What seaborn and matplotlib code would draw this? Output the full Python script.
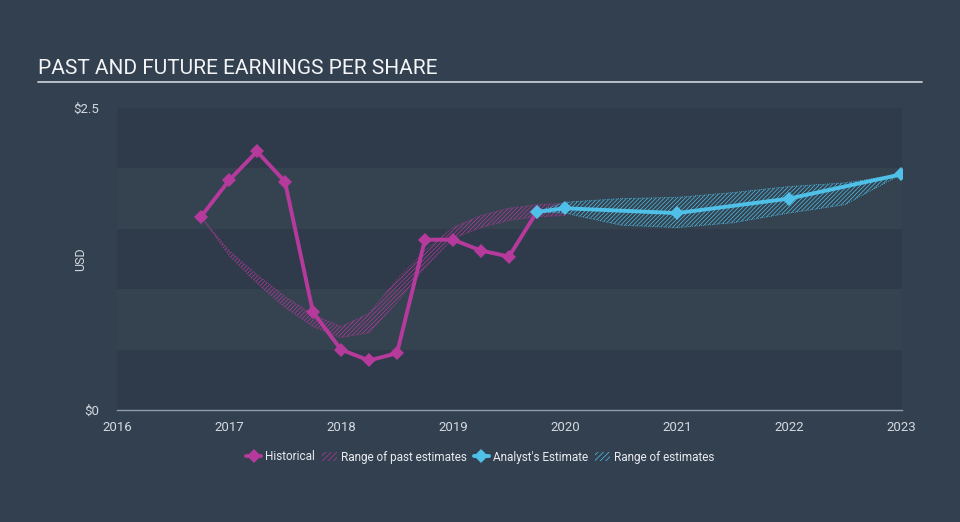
import matplotlib
matplotlib.use("Agg")
import matplotlib.pyplot as plt
from matplotlib.lines import Line2D
from matplotlib.patches import Patch
import pandas as pd
import seaborn as sns

# historical EPS (quarterly, decimal years)
hist_x = [2016.75, 2017.0, 2017.25, 2017.5, 2017.75, 2018.0, 2018.25, 2018.5,
          2018.75, 2019.0, 2019.25, 2019.5, 2019.75]
hist_y = [1.60, 1.90, 2.14, 1.89, 0.81, 0.50, 0.41, 0.47,
          1.41, 1.41, 1.32, 1.27, 1.64]

# analyst estimates
est_x = [2019.75, 2020.0, 2021.0, 2022.0, 2023.0]
est_y = [1.64, 1.67, 1.63, 1.75, 1.95]

# range of past estimates
past_x = [2016.75, 2017.0, 2017.25, 2017.5, 2017.75, 2018.0, 2018.25, 2018.5,
          2018.75, 2019.0, 2019.25, 2019.5, 2019.75, 2020.0]
past_hi = [1.60, 1.32, 1.12, 0.94, 0.79, 0.69, 0.80, 1.08,
           1.32, 1.51, 1.61, 1.67, 1.70, 1.71]
past_lo = [1.60, 1.28, 1.05, 0.85, 0.69, 0.60, 0.64, 0.89,
           1.18, 1.42, 1.51, 1.57, 1.60, 1.61]

# range of future estimates
rng_x = [2019.75, 2020.0, 2020.5, 2021.0, 2021.5, 2022.0, 2022.5, 2023.0]
rng_hi = [1.64, 1.72, 1.75, 1.76, 1.80, 1.85, 1.88, 1.95]
rng_lo = [1.64, 1.63, 1.53, 1.51, 1.55, 1.63, 1.70, 1.95]

years = [2016, 2017, 2018, 2019, 2020, 2021, 2022, 2023]

BG = "#334050"
BAND_DARK = "#2f3b4b"
BAND_LIGHT = "#354351"
MAGENTA = "#b53a9c"
CYAN = "#4fc1e9"
TXT = "#d4d9df"
AXIS = "#8d9cb0"

sns.set_theme(style="dark")
plt.rcParams["font.family"] = ["Roboto", "DejaVu Sans"]
plt.rcParams["hatch.linewidth"] = 0.5

fig = plt.figure(figsize=(9.6, 5.22), dpi=100, facecolor=BG)
ax = fig.add_axes([117 / 960, 112 / 522, 785 / 960, 302 / 522])
ax.set_facecolor(BG)

# horizontal background bands
for i in range(5):
    ax.axhspan(i * 0.5, (i + 1) * 0.5, color=BAND_DARK if i % 2 == 0 else BAND_LIGHT,
               lw=0, zorder=0)

# estimate ranges (hatched)
ax.fill_between(past_x, past_lo, past_hi, facecolor="none", edgecolor=MAGENTA,
                hatch="////////", lw=0.6, linestyle=":", zorder=1)
ax.fill_between(rng_x, rng_lo, rng_hi, facecolor="none", edgecolor=CYAN,
                hatch="////////", lw=0.6, linestyle=":", zorder=1)

hist = pd.DataFrame({"year": hist_x, "eps": hist_y})
est = pd.DataFrame({"year": est_x, "eps": est_y})
sns.lineplot(data=hist, x="year", y="eps", ax=ax, color=MAGENTA, lw=2.8,
             marker="D", markersize=7, markeredgewidth=0, zorder=3)
sns.lineplot(data=est, x="year", y="eps", ax=ax, color=CYAN, lw=2.8,
             marker="D", markersize=7, markeredgewidth=0, zorder=4)

ax.set_xlim(2016, 2023.01)
ax.set_ylim(0, 2.5)
ax.set_xticks(years)
ax.set_xticklabels([str(y) for y in years], color=TXT, fontsize=9.5)
ax.set_yticks([0, 2.5])
ax.set_yticklabels(["$0", "$2.5"], color=TXT, fontsize=9.5)
ax.tick_params(axis="x", direction="out", length=6, width=1, color=AXIS, pad=2)
ax.tick_params(axis="y", length=0, pad=13)
ax.set_xlabel("")
ax.set_ylabel("USD", color=TXT, fontsize=9)
ax.yaxis.set_label_coords(-0.038, 0.5)
ax.grid(False)
for s in ["top", "right", "left"]:
    ax.spines[s].set_visible(False)
ax.spines["bottom"].set_color(AXIS)
ax.spines["bottom"].set_linewidth(1)

# title with underline
fig.text(38 / 960, 1 - 69 / 522, "PAST AND FUTURE EARNINGS PER SHARE", color="#f2f4f6",
         fontsize=15, va="center", ha="left")
fig.add_artist(Line2D([38 / 960, 922 / 960], [1 - 81.5 / 522, 1 - 81.5 / 522],
                      color="#c3c9d1", lw=1.3))

handles = [
    Line2D([], [], color=MAGENTA, lw=2.8, marker="D", markersize=7, markeredgewidth=0),
    Patch(facecolor="none", edgecolor=MAGENTA, hatch="//////", lw=0),
    Line2D([], [], color=CYAN, lw=2.8, marker="D", markersize=7, markeredgewidth=0),
    Patch(facecolor="none", edgecolor=CYAN, hatch="//////", lw=0),
]
labels = ["Historical", "Range of past estimates", "Analyst's Estimate", "Range of estimates"]
leg = fig.legend(handles, labels, loc="center", bbox_to_anchor=(0.5, 1 - 457 / 522),
                 ncol=4, frameon=False, fontsize=8.5, handlelength=1.3,
                 handletextpad=0.3, columnspacing=0.6, labelcolor="#e8ebef")

fig.savefig("out.png", dpi=100, facecolor=BG)
